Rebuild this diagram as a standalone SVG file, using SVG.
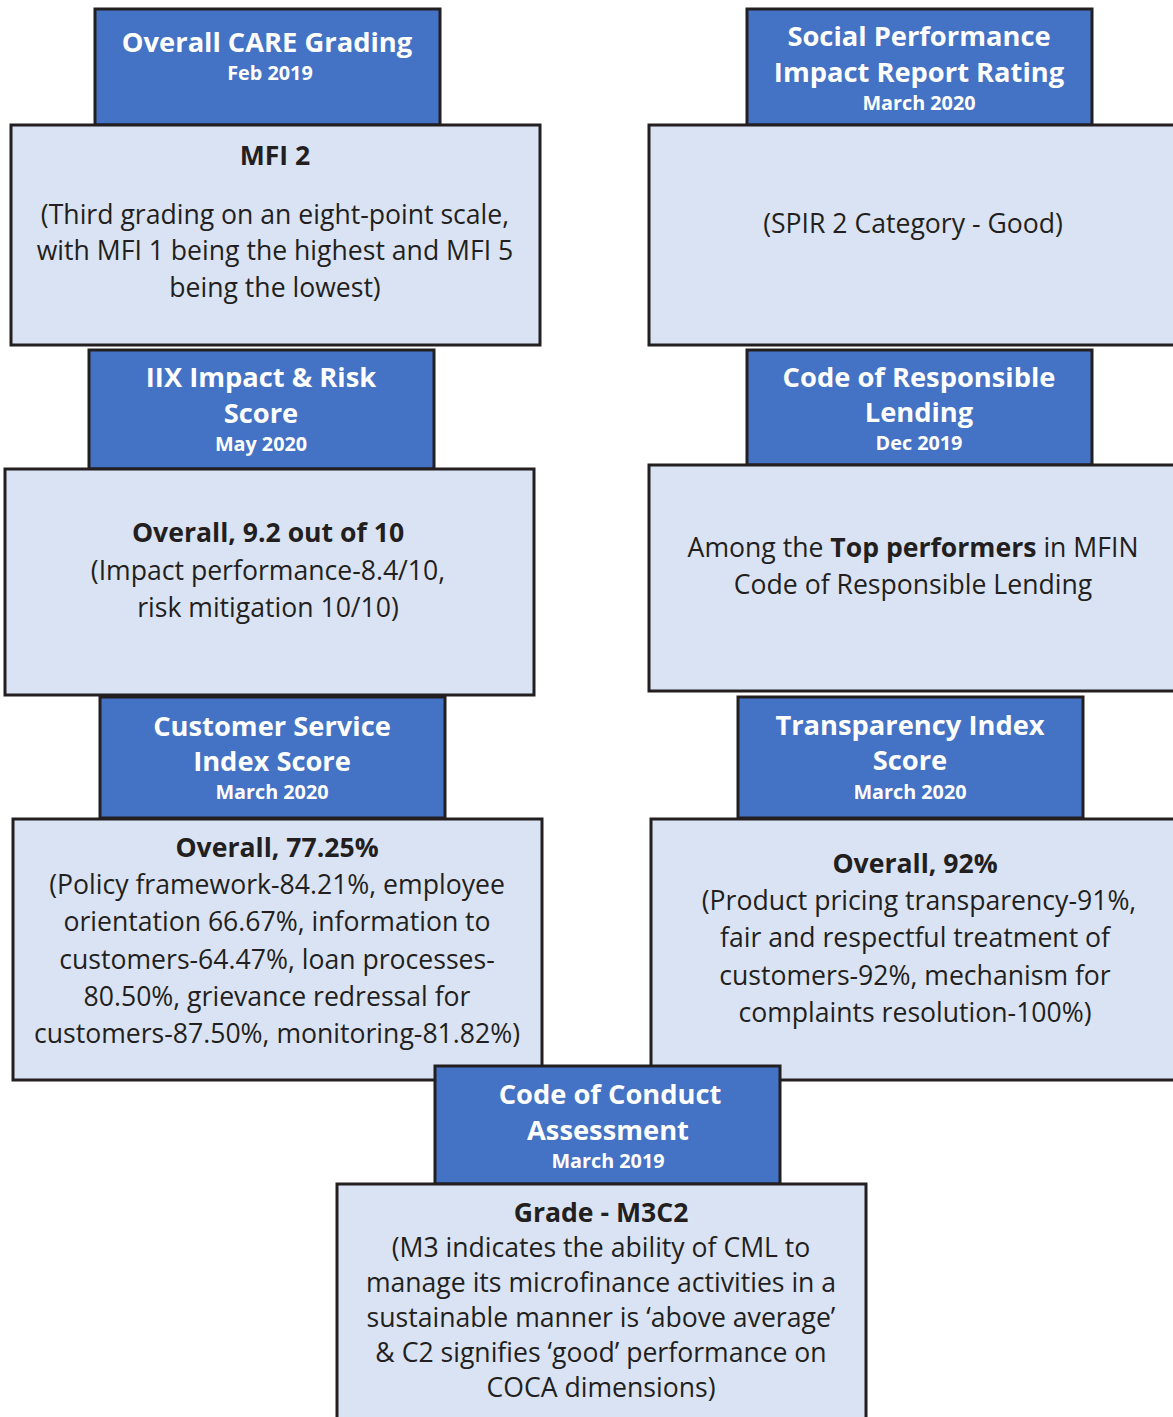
<svg xmlns="http://www.w3.org/2000/svg" width="1173" height="1417" viewBox="0 0 1173 1417">
<style>
.hd{fill:#4472C4;stroke:#231f20;stroke-width:3}
.bd{fill:#DAE3F3;stroke:#231f20;stroke-width:3}
.ht{font-family:"Open Sans","Noto Sans",sans-serif;font-weight:700;font-size:27.3px;fill:#ffffff;text-anchor:middle}
.dt{font-family:"Open Sans","Noto Sans",sans-serif;font-weight:700;font-size:19.8px;fill:#ffffff;text-anchor:middle}
.bt{font-family:"Open Sans","Noto Sans",sans-serif;font-weight:400;font-size:26.6px;fill:#231f20;text-anchor:middle}
.bb{font-family:"Open Sans","Noto Sans",sans-serif;font-weight:700;font-size:26.6px;fill:#231f20;text-anchor:middle}
</style>
<rect width="1173" height="1417" fill="#ffffff"/>
<g id="connectors"></g>
<g id="care-header"><rect class="hd" x="95" y="9" width="345" height="116"/>
<text class="ht" x="267" y="52">Overall CARE Grading</text><text class="dt" x="270" y="80">Feb 2019</text></g>
<g id="care-body"><rect class="bd" x="11" y="125" width="529" height="220"/>
<text class="bb" x="275" y="165">MFI 2</text>
<text class="bt" x="275" y="224">(Third grading on an eight-point scale,</text>
<text class="bt" x="275" y="260">with MFI 1 being the highest and MFI 5</text>
<text class="bt" x="275" y="297">being the lowest)</text></g>
<g id="spir-header"><rect class="hd" x="747" y="9" width="345" height="116"/>
<text class="ht" x="919" y="46">Social Performance</text><text class="ht" x="919" y="82">Impact Report Rating</text><text class="dt" x="919" y="110">March 2020</text></g>
<g id="spir-body"><rect class="bd" x="649" y="125" width="530" height="220"/>
<text class="bt" x="913" y="233">(SPIR 2 Category - Good)</text></g>
<g id="iix-header"><rect class="hd" x="89" y="350" width="345" height="119"/>
<text class="ht" x="261" y="387">IIX Impact &amp; Risk</text><text class="ht" x="261" y="423">Score</text><text class="dt" x="261" y="451">May 2020</text></g>
<g id="iix-body"><rect class="bd" x="5" y="469" width="529" height="226"/>
<text class="bb" x="268" y="542">Overall, 9.2 out of 10</text>
<text class="bt" x="268" y="580">(Impact performance-8.4/10,</text>
<text class="bt" x="268" y="617">risk mitigation 10/10)</text></g>
<g id="crl-header"><rect class="hd" x="747" y="350" width="345" height="115"/>
<text class="ht" x="919" y="387">Code of Responsible</text><text class="ht" x="919" y="422">Lending</text><text class="dt" x="919" y="450">Dec 2019</text></g>
<g id="crl-body"><rect class="bd" x="649" y="465" width="530" height="226"/>
<text class="bt" x="913" y="557">Among the <tspan font-weight="700">Top performers</tspan> in MFIN</text>
<text class="bt" x="913" y="594">Code of Responsible Lending</text></g>
<g id="csi-header"><rect class="hd" x="100" y="697" width="345" height="121"/>
<text class="ht" x="272" y="736">Customer Service</text><text class="ht" x="272" y="771">Index Score</text><text class="dt" x="272" y="799">March 2020</text></g>
<g id="csi-body"><rect class="bd" x="13" y="819" width="529" height="261"/>
<text class="bb" x="277" y="857">Overall, 77.25%</text>
<text class="bt" x="277" y="894">(Policy framework-84.21%, employee</text>
<text class="bt" x="277" y="931">orientation 66.67%, information to</text>
<text class="bt" x="277" y="969">customers-64.47%, loan processes-</text>
<text class="bt" x="277" y="1006">80.50%, grievance redressal for</text>
<text class="bt" x="277" y="1043">customers-87.50%, monitoring-81.82%)</text></g>
<g id="ti-header"><rect class="hd" x="738" y="697" width="345" height="121"/>
<text class="ht" x="910" y="735">Transparency Index</text><text class="ht" x="910" y="770">Score</text><text class="dt" x="910" y="799">March 2020</text></g>
<g id="ti-body"><rect class="bd" x="651" y="819" width="528" height="261"/>
<text class="bb" x="915" y="873">Overall, 92%</text>
<text class="bt" x="919" y="910">(Product pricing transparency-91%,</text>
<text class="bt" x="915" y="947">fair and respectful treatment of</text>
<text class="bt" x="915" y="985">customers-92%, mechanism for</text>
<text class="bt" x="915" y="1022">complaints resolution-100%)</text></g>
<g id="coca-header"><rect class="hd" x="435" y="1066" width="345" height="118"/>
<text class="ht" x="610" y="1104">Code of Conduct</text><text class="ht" x="608" y="1140">Assessment</text><text class="dt" x="608" y="1168">March 2019</text></g>
<g id="coca-body"><rect class="bd" x="337" y="1184" width="529" height="240"/>
<text class="bb" x="601" y="1222">Grade - M3C2</text>
<text class="bt" x="601" y="1257">(M3 indicates the ability of CML to</text>
<text class="bt" x="601" y="1292">manage its microfinance activities in a</text>
<text class="bt" x="601" y="1327">sustainable manner is ‘above average’</text>
<text class="bt" x="601" y="1362">&amp; C2 signifies ‘good’ performance on</text>
<text class="bt" x="601" y="1397">COCA dimensions)</text></g>
</svg>
